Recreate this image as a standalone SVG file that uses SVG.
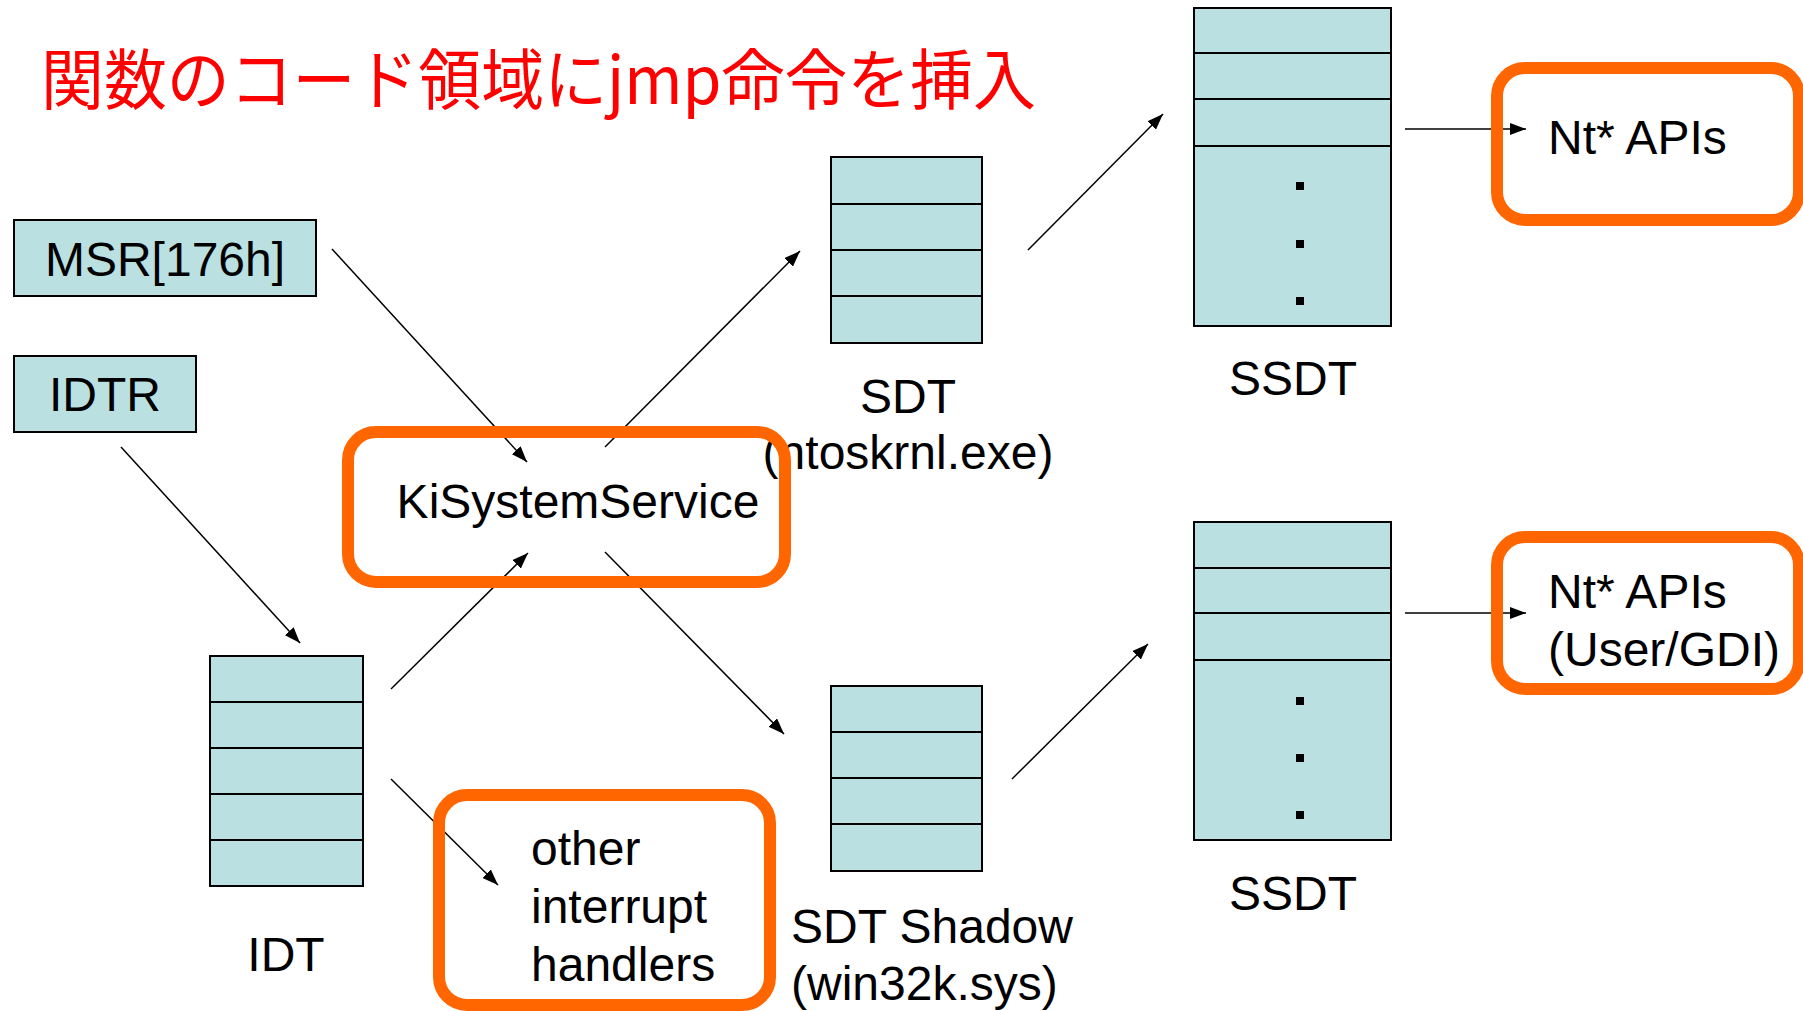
<svg xmlns="http://www.w3.org/2000/svg" width="1803" height="1011" viewBox="0 0 1803 1011">
<style>
.tbl{fill:#BAE0E2;stroke:#000;stroke-width:2}
.div{stroke:#000;stroke-width:2}
.lbl{font-family:"Liberation Sans",Arial,sans-serif;font-size:48px;fill:#000}
.hl{fill:none;stroke:#FF6600;stroke-width:12}
.con{stroke:#000;stroke-width:1.5;fill:none;marker-end:url(#arr)}
.dot{fill:#000}
</style>
<defs>
<marker id="arr" markerUnits="userSpaceOnUse" markerWidth="16" markerHeight="12" refX="16" refY="6" orient="auto">
<path d="M0,0 L16,6 L0,12 z" fill="#000"/>
</marker>
</defs>
<rect width="1803" height="1011" fill="#fff"/>
<text x="41" y="104" font-family="'Noto Sans CJK JP','Noto Sans',sans-serif" font-size="66" fill="#FF0000" textLength="995" lengthAdjust="spacingAndGlyphs">関数のコード領域にjmp命令を挿入</text>

<g id="msr">
<rect class="tbl" x="14" y="220" width="302" height="76"/>
<text class="lbl" x="165" y="276" text-anchor="middle">MSR[176h]</text>
</g>
<g id="idtr">
<rect class="tbl" x="14" y="356" width="182" height="76"/>
<text class="lbl" x="105" y="411" text-anchor="middle">IDTR</text>
</g>
<g id="idt">
<rect class="tbl" x="210" y="656" width="153" height="230"/>
<line class="div" x1="210" y1="702" x2="363" y2="702"/>
<line class="div" x1="210" y1="748" x2="363" y2="748"/>
<line class="div" x1="210" y1="794" x2="363" y2="794"/>
<line class="div" x1="210" y1="840" x2="363" y2="840"/>
<text class="lbl" x="286" y="971" text-anchor="middle">IDT</text>
</g>
<g id="sdt">
<rect class="tbl" x="831" y="157" width="151" height="186"/>
<line class="div" x1="831" y1="204" x2="982" y2="204"/>
<line class="div" x1="831" y1="250" x2="982" y2="250"/>
<line class="div" x1="831" y1="296" x2="982" y2="296"/>
<text class="lbl" x="908" y="413" text-anchor="middle">SDT</text>
<text class="lbl" x="908" y="469" text-anchor="middle">(ntoskrnl.exe)</text>
</g>
<g id="sdtshadow">
<rect class="tbl" x="831" y="686" width="151" height="185"/>
<line class="div" x1="831" y1="732" x2="982" y2="732"/>
<line class="div" x1="831" y1="778" x2="982" y2="778"/>
<line class="div" x1="831" y1="824" x2="982" y2="824"/>
<text class="lbl" x="791" y="943">SDT Shadow</text>
<text class="lbl" x="791" y="1000">(win32k.sys)</text>
</g>
<g id="ssdt1">
<rect class="tbl" x="1194" y="8" width="197" height="318"/>
<line class="div" x1="1194" y1="53" x2="1391" y2="53"/>
<line class="div" x1="1194" y1="99" x2="1391" y2="99"/>
<line class="div" x1="1194" y1="146" x2="1391" y2="146"/>
<rect class="dot" x="1296" y="182" width="8" height="8"/>
<rect class="dot" x="1296" y="240" width="8" height="8"/>
<rect class="dot" x="1296" y="297" width="8" height="8"/>
<text class="lbl" x="1293" y="395" text-anchor="middle">SSDT</text>
</g>
<g id="ssdt2">
<rect class="tbl" x="1194" y="522" width="197" height="318"/>
<line class="div" x1="1194" y1="568" x2="1391" y2="568"/>
<line class="div" x1="1194" y1="613" x2="1391" y2="613"/>
<line class="div" x1="1194" y1="660" x2="1391" y2="660"/>
<rect class="dot" x="1296" y="697" width="8" height="8"/>
<rect class="dot" x="1296" y="754" width="8" height="8"/>
<rect class="dot" x="1296" y="811" width="8" height="8"/>
<text class="lbl" x="1293" y="910" text-anchor="middle">SSDT</text>
</g>

<g id="connectors">
<line class="con" x1="332" y1="249" x2="527" y2="462"/>
<line class="con" x1="121" y1="447" x2="300" y2="643"/>
<line class="con" x1="391" y1="689" x2="528" y2="553"/>
<line class="con" x1="391" y1="779" x2="498" y2="885"/>
<line class="con" x1="605" y1="447" x2="800" y2="251"/>
<line class="con" x1="605" y1="552" x2="784" y2="734"/>
<line class="con" x1="1028" y1="250" x2="1163" y2="114"/>
<line class="con" x1="1012" y1="779" x2="1148" y2="644"/>
<line class="con" x1="1405" y1="129" x2="1526" y2="129"/>
<line class="con" x1="1405" y1="613" x2="1526" y2="613"/>
</g>

<g id="kisystemservice">
<text class="lbl" x="578" y="518" text-anchor="middle">KiSystemService</text>
<rect class="hl" x="348" y="432" width="437" height="150" rx="28"/>
</g>
<g id="other">
<text class="lbl" x="531" y="865">other</text>
<text class="lbl" x="531" y="923">interrupt</text>
<text class="lbl" x="531" y="981">handlers</text>
<rect class="hl" x="439" y="795" width="331" height="210" rx="28"/>
</g>
<g id="ntapis1">
<text class="lbl" x="1548" y="154">Nt* APIs</text>
<rect class="hl" x="1497" y="68" width="302" height="152" rx="28"/>
</g>
<g id="ntapis2">
<text class="lbl" x="1548" y="608">Nt* APIs</text>
<text class="lbl" x="1548" y="666">(User/GDI)</text>
<rect class="hl" x="1497" y="537" width="302" height="152" rx="28"/>
</g>
</svg>
